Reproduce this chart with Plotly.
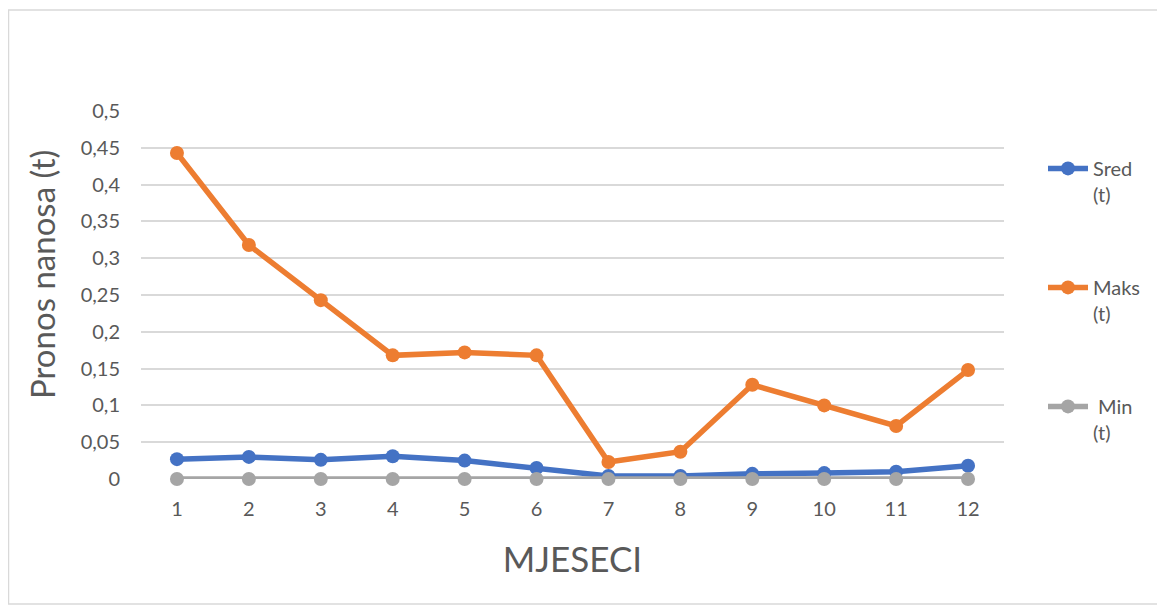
import plotly.graph_objects as go

months = [1, 2, 3, 4, 5, 6, 7, 8, 9, 10, 11, 12]
sred = [0.027, 0.030, 0.026, 0.031, 0.025, 0.015, 0.004, 0.004, 0.007, 0.008, 0.010, 0.018]
maks = [0.443, 0.318, 0.243, 0.168, 0.172, 0.168, 0.023, 0.037, 0.128, 0.100, 0.072, 0.148]
minv = [0, 0, 0, 0, 0, 0, 0, 0, 0, 0, 0, 0]
y_ticks = [0, 0.05, 0.1, 0.15, 0.2, 0.25, 0.3, 0.35, 0.4, 0.45, 0.5]
y_labels = ["0", "0,05", "0,1", "0,15", "0,2", "0,25", "0,3", "0,35", "0,4", "0,45", "0,5"]

# page body has an 8px margin, so the figure is a bit smaller than the window
W, H = 1157, 599
L, R, T, B = 133, 161, 103, 128
pw, ph = W - L - R, H - T - B
GREY = "#595959"

fig = go.Figure()
series = [("Sred<br>(t)", sred, "#4472c4"),
          ("Maks<br>(t)", maks, "#ed7d31"),
          ("\u00a0Min<br>(t)", minv, "#a5a5a5")]
for name, vals, col in series:
    fig.add_trace(go.Scatter(
        x=months, y=vals, name=name, mode="lines+markers",
        line=dict(color=col, width=5.5),
        marker=dict(color=col, size=14),
        legendgroup=name, cliponaxis=False,
    ))

# outer chart border
fig.add_shape(type="rect", xref="paper", yref="paper",
              x0=(0.5 - L) / pw, x1=(1154 - L) / pw,
              y0=-(596 - (H - B)) / ph, y1=1 + (T - 2) / ph,
              line=dict(color="#d9d9d9", width=1.5), layer="below")

fig.add_annotation(text="Pronos nanosa (t)", textangle=-90,
                   xref="paper", yref="paper", x=(34 - L) / pw, y=0.5 + 20 / ph,
                   xanchor="center", yanchor="middle", showarrow=False,
                   font=dict(size=33, color=GREY))

fig.update_layout(
    width=W, height=H,
    margin=dict(l=L, r=R, t=T, b=B),
    paper_bgcolor="white", plot_bgcolor="white",
    font=dict(family="Lato, Open Sans, sans-serif", color=GREY, size=20),
    legend=dict(x=(1035 - L) / pw, y=0.897, xanchor="left", yanchor="top",
                tracegroupgap=64, font=dict(size=20, color=GREY),
                valign="top", itemwidth=40),
)
fig.update_xaxes(
    range=[0.5, 12.5], tickvals=months, ticktext=[str(m) for m in months],
    showgrid=False, zeroline=False, showline=False, ticks="",
    tickfont=dict(size=20), ticklabelstandoff=16,
    title=dict(text="MJESECI", font=dict(size=35, color=GREY), standoff=28),
)
fig.update_yaxes(
    range=[0, 0.5], tickvals=y_ticks, ticktext=y_labels,
    showgrid=True, gridcolor="#d9d9d9", gridwidth=1.5, zeroline=False,
    ticks="", tickfont=dict(size=20), ticklabelstandoff=20,
)

fig.write_html("out.html")
